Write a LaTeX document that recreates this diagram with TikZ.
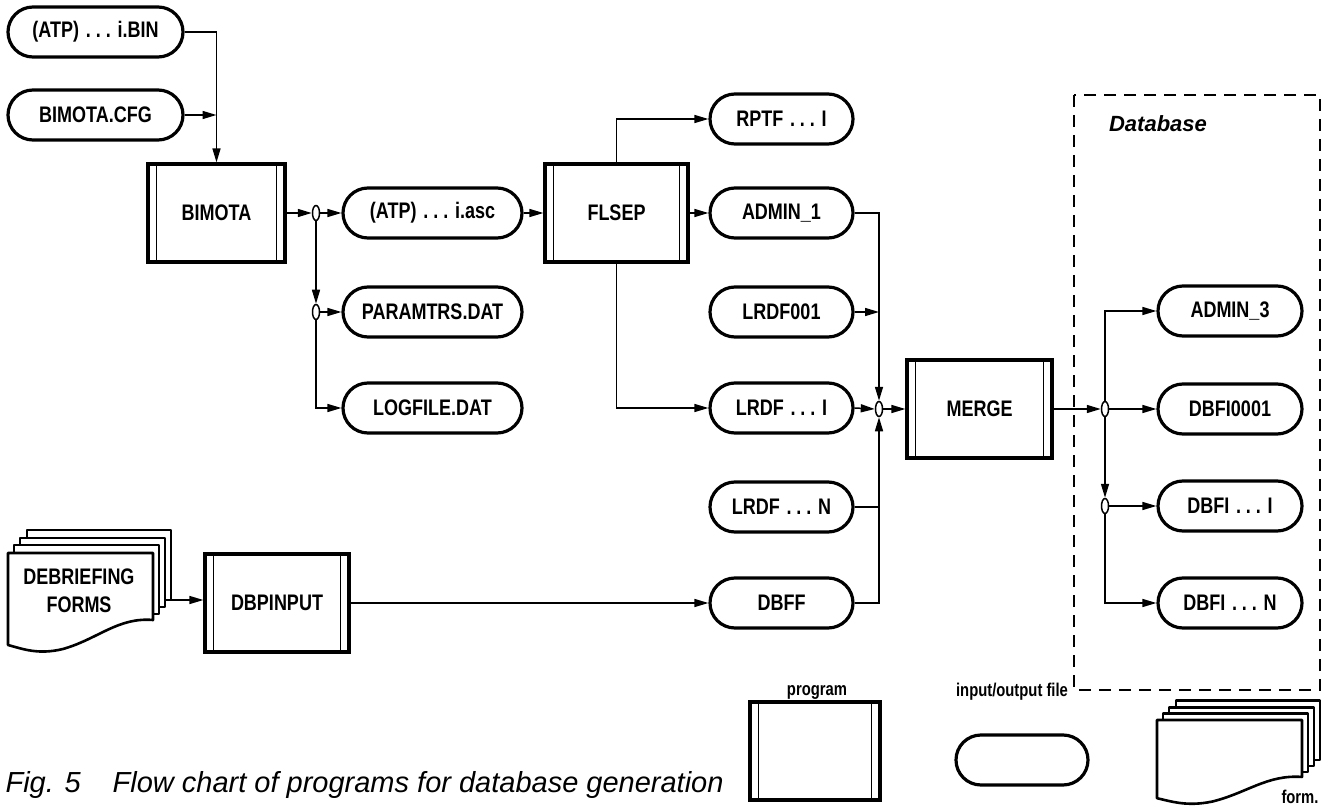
\documentclass[tikz,border=0pt]{standalone}
\usepackage{fontspec}
\setmainfont{Liberation Sans}
\newfontfamily\cond[FakeStretch=0.8]{Liberation Sans}
\usetikzlibrary{arrows.meta,shapes.geometric,shapes.misc}
\newcommand\dd{\hspace{0.3em}.\hspace{0.22em}.\hspace{0.22em}.\hspace{0.3em}}
\begin{document}
\begin{tikzpicture}[x=1pt,y=-1pt,
  lbl/.style={font=\cond\bfseries\fontsize{22.5}{28}\selectfont},
  leglbl/.style={font=\cond\bfseries\fontsize{18.5}{20}\selectfont},
  file/.style={rounded rectangle, draw, line width=3.2pt, minimum height=50pt, inner sep=0pt, lbl},
  prog/.style={rectangle, draw, line width=3.2pt, minimum width=138pt, minimum height=98pt, inner sep=0pt, lbl},
  conn/.style={line width=1.5pt},
  arr/.style={conn, -{Triangle[length=14pt,width=8pt]}},
  junc/.style={ellipse, draw, fill=white, line width=1.5pt, minimum width=7pt, minimum height=15pt, inner sep=0pt},
  sheet/.style={draw, fill=white, line width=2.6pt, line join=round}
]
\useasboundingbox (0,0) rectangle (1325,810);

% ---- files
\node[file, minimum width=175pt] (bin) at (95.5,32) {(ATP)\dd i.BIN};
\node[file, minimum width=175pt] (cfg) at (95.5,115) {BIMOTA.CFG};
\node[file, minimum width=179pt] (asc) at (432.5,213) {(ATP)\dd i.asc};
\node[file, minimum width=179pt] (params) at (432.5,312) {PARAMTRS.DAT};
\node[file, minimum width=179pt] (logf) at (432.5,408) {LOGFILE.DAT};
\node[file, minimum width=143pt] (rptf) at (781.5,119) {RPTF\dd I};
\node[file, minimum width=143pt] (admin1) at (781.5,213) {ADMIN\_1};
\node[file, minimum width=143pt] (lrdf001) at (781.5,312) {LRDF001};
\node[file, minimum width=143pt] (lrdfi) at (781.5,408) {LRDF\dd I};
\node[file, minimum width=143pt] (lrdfn) at (781.5,507) {LRDF\dd N};
\node[file, minimum width=143pt] (dbff) at (781.5,603) {DBFF};
\node[file, minimum width=144pt] (admin3) at (1230,311) {ADMIN\_3};
\node[file, minimum width=144pt] (dbfi1) at (1230,409) {DBFI0001};
\node[file, minimum width=144pt] (dbfii) at (1230,506) {DBFI\dd I};
\node[file, minimum width=144pt] (dbfin) at (1230,603) {DBFI\dd N};

% ---- programs
\node[prog, minimum width=137pt] (bimota) at (216.5,213) {BIMOTA};
\node[prog, minimum width=143pt] (flsep) at (616.5,213) {FLSEP};
\node[prog, minimum width=145pt] (merge) at (979.5,409) {MERGE};
\node[prog, minimum width=144pt] (dbpinput) at (277,603) {DBPINPUT};

% ---- junctions
\node[junc] (j1) at (316,213) {};
\node[junc] (j2) at (316,312) {};
\node[junc] (j3) at (879,409) {};
\node[junc] (j4) at (1105,409) {};
\node[junc] (j5) at (1105,506) {};

% ---- forms
\begin{scope}[shift={(8,553)}]
  \draw[sheet] (19,-23) rectangle (163,47);
  \draw[sheet] (12,-15) rectangle (157,54);
  \draw[sheet] (6,-8) rectangle (151,61);
  \draw[sheet] (0,0) -- (145,0) -- (145,67)
     .. controls (110,64) and (90,86) .. (55,96)
     .. controls (30,102) and (15,96) .. (0,92) -- cycle;
\end{scope}
\node[lbl, align=center] (forms) at (79,591) {DEBRIEFING\\FORMS};
\coordinate (fsrc) at (171,600);

% ---- database box
\draw[line width=2.6pt, dash pattern=on 12pt off 8pt] (1074,95) rectangle (1320,690);
\node[font=\bfseries\itshape\fontsize{22}{24}\selectfont] (dbl) at (1158,124) {Database};

% ---- connectors
\draw[arr] (bin.east) -| (bimota.north);
\draw[arr] (cfg.east) -- (cfg.east -| bimota.north);
\draw[arr] (bimota.east) -- (j1.west);
\draw[arr] (j1.east) -- (asc.west);
\draw[arr] (j1.south) -- (j2.north);
\draw[arr] (j2.east) -- (params.west);
\draw[arr] (j2.south) |- (logf.west);
\draw[arr] (asc.east) -- (flsep.west);
\draw[arr] (flsep.north) |- (rptf.west);
\draw[arr] (flsep.east) -- (admin1.west);
\draw[arr] (flsep.south) |- (lrdfi.west);
\draw[arr] (admin1.east) -| (j3.north);
\draw[arr] (lrdf001.east) -- (lrdf001.east -| j3.north);
\draw[arr] (lrdfi.east) -- (j3.west);
\draw[conn] (lrdfn.east) -- (lrdfn.east -| j3.south);
\draw[arr] (dbff.east) -| (j3.south);
\draw[arr] (j3.east) -- (merge.west);
\draw[arr] (fsrc) -- (fsrc -| dbpinput.west);
\draw[arr] (dbpinput.east) -- (dbff.west);
\draw[arr] (merge.east) -- (j4.west);
\draw[arr] (j4.east) -- (dbfi1.west);
\draw[arr] (j4.north) |- (admin3.west);
\draw[arr] (j4.south) -- (j5.north);
\draw[arr] (j5.east) -- (dbfii.west);
\draw[arr] (j5.south) |- (dbfin.west);

% ---- legend
\node[prog, minimum width=130pt] (legprog) at (815,751) {};
\node[leglbl] (legprogl) at (817,692) {program};
\node[file, minimum width=132pt] (legfile) at (1022,760) {};
\node[leglbl] (legfilel) at (1012,692) {input/output file};
\begin{scope}[shift={(1157,720)}, yscale=0.85]
  \draw[sheet] (19,-23) rectangle (163,47);
  \draw[sheet] (12,-15) rectangle (157,54);
  \draw[sheet] (6,-8) rectangle (151,61);
  \draw[sheet] (0,0) -- (145,0) -- (145,67)
     .. controls (110,64) and (90,86) .. (55,96)
     .. controls (30,102) and (15,96) .. (0,92) -- cycle;
\end{scope}
\node[leglbl] (legform) at (1300,797) {form.};

\foreach \n in {bimota,flsep,merge,dbpinput,legprog}{
  \draw[line width=1.5pt] ([xshift=10pt]\n.north west) -- ([xshift=10pt]\n.south west);
  \draw[line width=1.5pt] ([xshift=-10pt]\n.north east) -- ([xshift=-10pt]\n.south east);
}

% ---- caption
\node[anchor=west, font=\itshape\fontsize{29}{30}\selectfont] (cap) at (2,785) {Fig. 5\hspace{1.1em}Flow chart of programs for database generation};
\end{tikzpicture}
\end{document}
